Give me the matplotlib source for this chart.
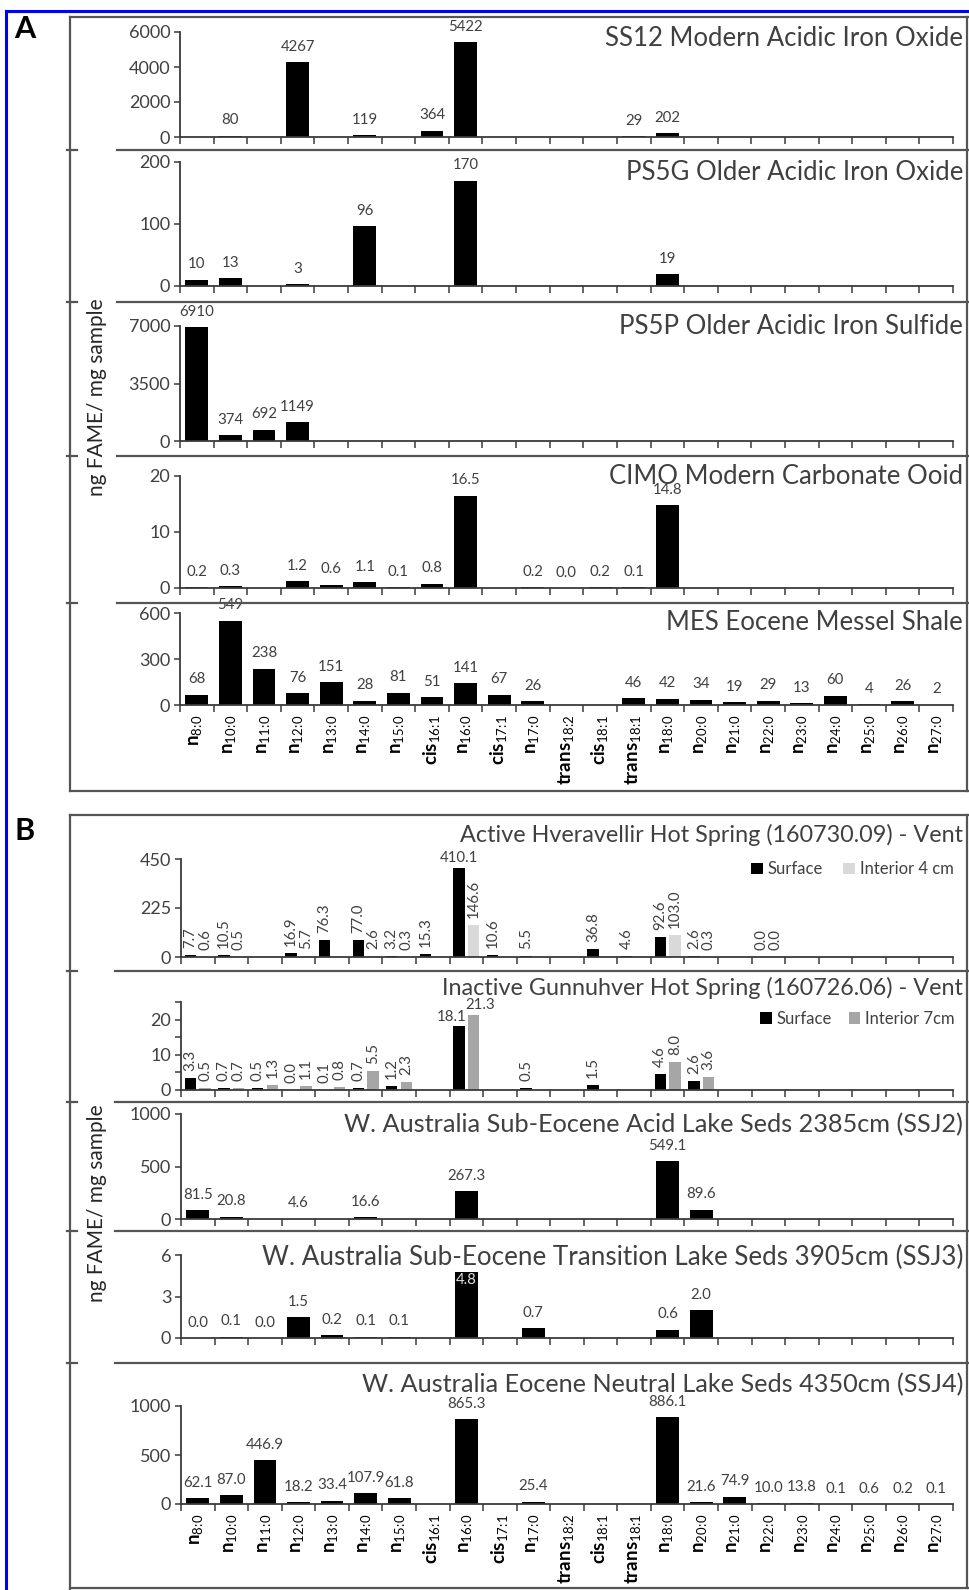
import numpy as np
import matplotlib
matplotlib.use("Agg")
import matplotlib.pyplot as plt
from matplotlib.lines import Line2D

# Размер картинки в пикселях
W, H = 969, 1590

plt.rcParams["font.family"] = ["Lato", "DejaVu Sans"]
plt.rcParams["mathtext.fontset"] = "custom"
plt.rcParams["mathtext.rm"] = "Lato"
plt.rcParams["mathtext.bf"] = "Lato:bold"

# Категории (жирные кислоты): префикс и индекс
cat_prefix = ["n", "n", "n", "n", "n", "n", "n", "cis", "n", "cis", "n", "trans",
              "cis", "trans", "n", "n", "n", "n", "n", "n", "n", "n", "n"]
cat_index = ["8:0", "10:0", "11:0", "12:0", "13:0", "14:0", "15:0", "16:1", "16:0",
             "17:1", "17:0", "18:2", "18:1", "18:1", "18:0", "20:0", "21:0", "22:0",
             "23:0", "24:0", "25:0", "26:0", "27:0"]
# двоеточие в mathtext получает лишние отступы, убираем их через \!
cat_labels = [r"$\mathbf{%s}_{\mathrm{%s}}$" % (p, s.replace(":", r"\!:\!"))
              for p, s in zip(cat_prefix, cat_index)]

n = None

# Панель A
ss12 = [n, 80, n, 4267, n, 119, n, 364, 5422, n, n, n, n, 29, 202, n, n, n, n, n, n, n, n]
ps5g = [10, 13, n, 3, n, 96, n, n, 170, n, n, n, n, n, 19, n, n, n, n, n, n, n, n]
ps5p = [6910, 374, 692, 1149, n, n, n, n, n, n, n, n, n, n, n, n, n, n, n, n, n, n, n]
cimo = [0.2, 0.3, n, 1.2, 0.6, 1.1, 0.1, 0.8, 16.5, n, 0.2, 0.0, 0.2, 0.1, 14.8,
        n, n, n, n, n, n, n, n]
mes = [68, 549, 238, 76, 151, 28, 81, 51, 141, 67, 26, n, n, 46, 42, 34, 19, 29, 13,
       60, 4, 26, 2]

# Панель B
hver_surface = [7.7, 10.5, n, 16.9, 76.3, 77.0, 3.2, 15.3, 410.1, 10.6, 5.5, n, 36.8,
                4.6, 92.6, 2.6, n, 0.0, n, n, n, n, n]
hver_interior = [0.6, 0.5, n, 5.7, n, 2.6, 0.3, n, 146.6, n, n, n, n, n, 103.0, 0.3,
                 n, 0.0, n, n, n, n, n]
gunn_surface = [3.3, 0.7, 0.5, 0.0, 0.1, 0.7, 1.2, n, 18.1, n, 0.5, n, 1.5, n, 4.6,
                2.6, n, n, n, n, n, n, n]
gunn_interior = [0.5, 0.7, 1.3, 1.1, 0.8, 5.5, 2.3, n, 21.3, n, n, n, n, n, 8.0, 3.6,
                 n, n, n, n, n, n, n]
ssj2 = [81.5, 20.8, n, 4.6, n, 16.6, n, n, 267.3, n, n, n, n, n, 549.1, 89.6,
        n, n, n, n, n, n, n]
ssj3 = [0.0, 0.1, 0.0, 1.5, 0.2, 0.1, 0.1, n, 4.8, n, 0.7, n, n, n, 0.6, 2.0,
        n, n, n, n, n, n, n]
ssj4 = [62.1, 87.0, 446.9, 18.2, 33.4, 107.9, 61.8, n, 865.3, n, 25.4, n, n, n, 886.1,
        21.6, 74.9, 10.0, 13.8, 0.1, 0.6, 0.2, 0.1]

TEXT = "#404040"
AXIS = "#3a3a3a"
VAL_FS = 10.8

fig = plt.figure(figsize=(W / 100, H / 100), dpi=100)


def fx(x):
    return x / W


def fy(y):
    return 1 - y / H


def hline(x0, x1, y, **kw):
    fig.add_artist(Line2D([fx(x0), fx(x1)], [fy(y), fy(y)], transform=fig.transFigure, **kw))


def vline(x, y0, y1, **kw):
    fig.add_artist(Line2D([fx(x), fx(x)], [fy(y0), fy(y1)], transform=fig.transFigure, **kw))


def make_axes(x0, x1, ytop, ybot, ymax, yticks, minor=None, show_labels=False):
    ax = fig.add_axes([fx(x0), fy(ybot), fx(x1) - fx(x0), (ybot - ytop) / H])
    ax.set_xlim(-0.5, 22.5)
    ax.set_ylim(0, ymax)
    for s in ["top", "right"]:
        ax.spines[s].set_visible(False)
    for s in ["left", "bottom"]:
        ax.spines[s].set_color(AXIS)
        ax.spines[s].set_linewidth(1.3)
    ax.set_yticks(yticks)
    ax.set_yticklabels([str(t) for t in yticks])
    if minor is not None:
        ax.set_yticks(minor, minor=True)
        ax.tick_params(axis="y", which="minor", length=4, width=1.1, color=AXIS)
    ax.tick_params(axis="y", length=4, width=1.1, color=AXIS, labelsize=13,
                   labelcolor=TEXT, pad=3)
    ax.set_xticks(np.arange(-0.5, 23, 1))
    ax.set_xticklabels([])
    ax.tick_params(axis="x", which="major", length=5, width=1.1, color=AXIS, direction="out")
    if show_labels:
        ax.set_xticks(np.arange(23), minor=True)
        ax.set_xticklabels(cat_labels, minor=True, rotation=90, fontsize=13.5, color="black")
        ax.tick_params(axis="x", which="minor", length=0, pad=7)
    ax.patch.set_alpha(0)
    return ax


def single_bars(ax, vals, fmt, inside=()):
    x = np.arange(len(vals))
    h = np.array([0 if v is None else v for v in vals], dtype=float)
    ax.bar(x, h, width=0.68, color="black", zorder=2)
    for i, v in enumerate(vals):
        if v is None:
            continue
        if i in inside:
            ax.annotate(fmt.format(v), (i, v), xytext=(0, -1), textcoords="offset points",
                        ha="center", va="top", fontsize=VAL_FS, color="#e0e0e0")
        else:
            ax.annotate(fmt.format(v), (i, v), xytext=(0, 6), textcoords="offset points",
                        ha="center", va="bottom", fontsize=VAL_FS, color=TEXT,
                        annotation_clip=False)


def grouped_bars(ax, surf, inter, c2, ymax, names):
    x = np.arange(len(surf))
    hs = np.array([0 if v is None else v for v in surf], dtype=float)
    hi = np.array([0 if v is None else v for v in inter], dtype=float)
    ax.bar(x - 0.22, hs, width=0.34, color="black", zorder=2, label=names[0])
    ax.bar(x + 0.22, hi, width=0.34, color=c2, zorder=2, label=names[1])
    for i in range(len(surf)):
        both_h = (surf[i] is not None and inter[i] is not None
                  and surf[i] > 0.5 * ymax and inter[i] > 0.5 * ymax)
        for v, dx, sh in [(surf[i], -0.22, -5), (inter[i], 0.22, 5)]:
            if v is None:
                continue
            if v > 0.5 * ymax:
                ax.annotate("%.1f" % v, (i + dx, v), xytext=(sh if both_h else 0, 2),
                            textcoords="offset points", ha="center", va="bottom",
                            fontsize=VAL_FS, color=TEXT, annotation_clip=False)
            else:
                ax.annotate("%.1f" % v, (i + dx, v), xytext=(0, 5),
                            textcoords="offset points", ha="center", va="bottom",
                            rotation=90, fontsize=VAL_FS, color=TEXT, annotation_clip=False)


def title(y, s, fs=18.5):
    fig.text(fx(963), fy(y), s, ha="right", va="center", fontsize=fs, color=TEXT)


# ---------- Панель A ----------
AX0, AX1 = 180, 953
ax = make_axes(AX0, AX1, 32, 137, 6000, [0, 2000, 4000, 6000])
single_bars(ax, ss12, "{:.0f}")
title(39, "SS12 Modern Acidic Iron Oxide")

ax = make_axes(AX0, AX1, 162, 286, 200, [0, 100, 200])
single_bars(ax, ps5g, "{:.0f}")
title(173, "PS5G Older Acidic Iron Oxide")

ax = make_axes(AX0, AX1, 326, 441, 7000, [0, 3500, 7000])
single_bars(ax, ps5p, "{:.0f}")
title(327, "PS5P Older Acidic Iron Sulfide")

ax = make_axes(AX0, AX1, 476, 588, 20, [0, 10, 20])
single_bars(ax, cimo, "{:.1f}")
title(477, "CIMO Modern Carbonate Ooid")

ax = make_axes(AX0, AX1, 613, 705, 600, [0, 300, 600], show_labels=True)
single_bars(ax, mes, "{:.0f}")
title(623, "MES Eocene Messel Shale")

# ---------- Панель B ----------
BX0, BX1 = 181, 953
ax = make_axes(BX0, BX1, 859, 957, 450, [0, 225, 450])
grouped_bars(ax, hver_surface, hver_interior, "#d9d9d9", 450, ["Surface", "Interior 4 cm"])
ax.legend(loc="upper right", bbox_to_anchor=(1.02, 1.13), ncol=2, frameon=False,
          fontsize=12, handlelength=0.7, handleheight=0.7, handletextpad=0.3,
          columnspacing=1.2, labelcolor=TEXT)
title(835, "Active Hveravellir Hot Spring (160730.09) - Vent", fs=16.8)

ax = make_axes(BX0, BX1, 1002, 1090, 25, [0, 10, 20], minor=[5, 15, 25])
grouped_bars(ax, gunn_surface, gunn_interior, "#a6a6a6", 25, ["Surface", "Interior 7cm"])
ax.legend(loc="upper right", bbox_to_anchor=(1.022, 1.07), ncol=2, frameon=False,
          fontsize=12, handlelength=0.7, handleheight=0.7, handletextpad=0.3,
          columnspacing=1.0, labelcolor=TEXT)
title(988, "Inactive Gunnuhver Hot Spring (160726.06) - Vent", fs=16.8)

ax = make_axes(BX0, BX1, 1114, 1219, 1000, [0, 500, 1000])
single_bars(ax, ssj2, "{:.1f}")
title(1125, "W. Australia Sub-Eocene Acid Lake Seds 2385cm (SSJ2)", fs=18.2)

ax = make_axes(BX0, BX1, 1255, 1338, 6, [0, 3, 6])
single_bars(ax, ssj3, "{:.1f}", inside=(8,))
title(1257, "W. Australia Sub-Eocene Transition Lake Seds 3905cm (SSJ3)", fs=18.7)

ax = make_axes(BX0, BX1, 1406, 1504, 1000, [0, 500, 1000], show_labels=True)
single_bars(ax, ssj4, "{:.1f}")
title(1385, "W. Australia Eocene Neutral Lake Seds 4350cm (SSJ4)", fs=18.2)

# ---------- Рамки ----------
frame = dict(color="#555555", linewidth=1.6)
hline(70, 969, 17, **frame)
hline(70, 969, 791, **frame)
vline(70, 17, 791, **frame)
vline(967, 17, 791, **frame)
for y in [150, 302, 456, 603]:
    hline(117, 969, y, **frame)
    hline(67, 77, y, **frame)

hline(70, 969, 815, **frame)
hline(70, 969, 1588, **frame)
vline(70, 815, 1590, **frame)
vline(967, 815, 1588, **frame)
for y in [971, 1102, 1231, 1363]:
    hline(115, 969, y, **frame)
    hline(67, 77, y, **frame)

# Синяя рамка
blue = dict(color="blue", linewidth=2.2)
hline(6, 969, 11, **blue)
vline(6, 11, 1590, **blue)

# Подписи панелей и оси Y
fig.text(fx(25), fy(29), "A", ha="center", va="center", fontsize=22, fontweight="bold")
fig.text(fx(25), fy(831), "B", ha="center", va="center", fontsize=22, fontweight="bold")
fig.text(fx(97), fy(397), "ng FAME/ mg sample", rotation=90, ha="center", va="center",
         fontsize=15, color="#262626")
fig.text(fx(97), fy(1203), "ng FAME/ mg sample", rotation=90, ha="center", va="center",
         fontsize=15, color="#262626")

fig.savefig("out.png", dpi=100)
